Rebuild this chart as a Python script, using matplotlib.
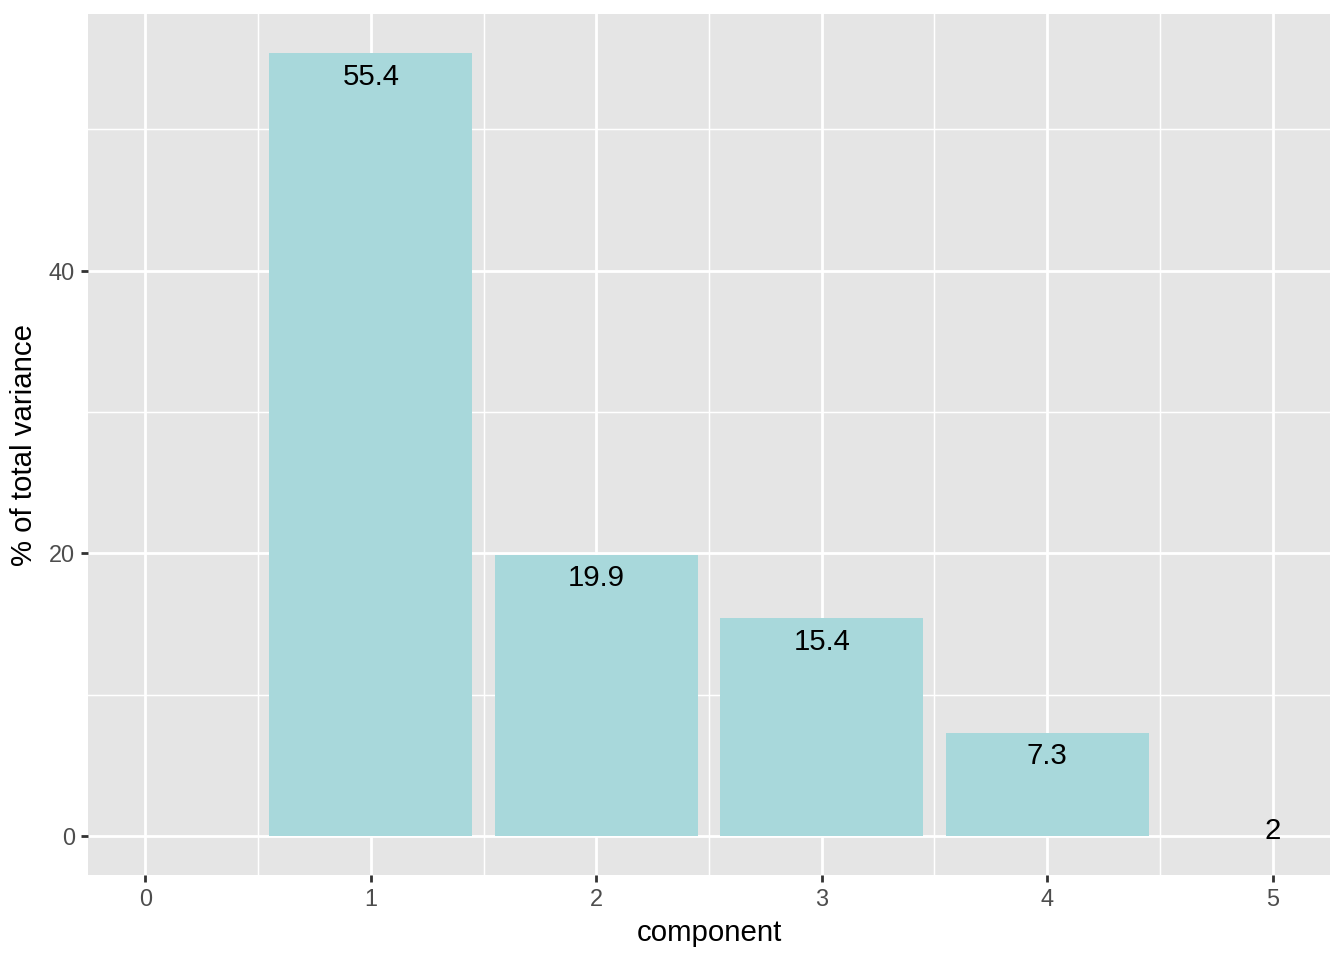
import matplotlib.pyplot as plt
from matplotlib.ticker import MultipleLocator

plt.rcParams["font.family"] = ["Liberation Sans", "DejaVu Sans"]

# bars drawn for components 1-4; component 5 only carries a label
bar_components = [1, 2, 3, 4]
bar_values = [55.4, 19.9, 15.4, 7.3]
label_components = [1, 2, 3, 4, 5]
label_values = [55.4, 19.9, 15.4, 7.3, 2]
x_ticks = [0, 1, 2, 3, 4, 5]
y_ticks = [0, 20, 40]

fig = plt.figure(figsize=(7, 5), dpi=192)
ax = fig.add_axes([88 / 1344, 85 / 960, (1330 - 88) / 1344, (875 - 14) / 960])
ax.set_facecolor("#E5E5E5")

ax.set_xlim(-0.255, 5.255)
ax.set_ylim(-2.77, 58.17)
ax.set_xticks(x_ticks)
ax.set_yticks(y_ticks)
ax.xaxis.set_minor_locator(MultipleLocator(0.5))
ax.yaxis.set_minor_locator(MultipleLocator(10))
ax.grid(which="major", color="white", linewidth=1.05)
ax.grid(which="minor", color="white", linewidth=0.55)
ax.set_axisbelow(True)
for s in ax.spines.values():
    s.set_visible(False)

ax.tick_params(which="major", length=2.75, width=1.05, color="#333333",
               labelcolor="#4D4D4D", labelsize=8.8, pad=2.2)
ax.tick_params(which="minor", length=0)

ax.bar(bar_components, bar_values, width=0.9, color="#A8D8DB", zorder=2)
for comp, val in zip(label_components, label_values):
    ax.annotate(f"{val:g}", (comp, val), xytext=(0, -8.8), textcoords="offset points",
                ha="center", va="center", fontsize=11, color="black", zorder=3)

ax.set_xlabel("component", fontsize=11, labelpad=3)
ax.set_ylabel("% of total variance", fontsize=11, labelpad=4)

fig.savefig("out.png", dpi=192)
